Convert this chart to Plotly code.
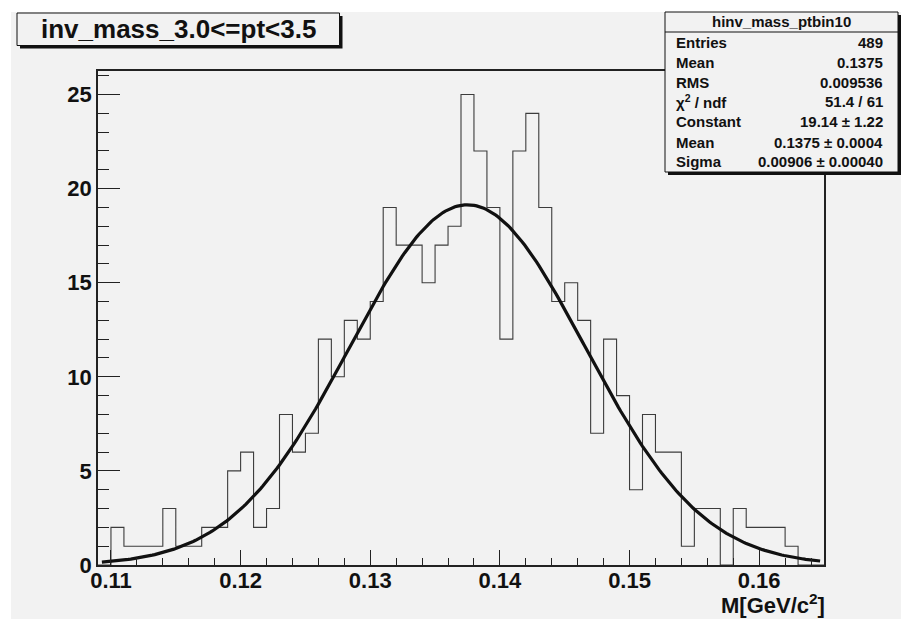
import numpy as np
import plotly.graph_objects as go

# ---- data ----
hist_low_edge = 0.109
bin_width = 0.001
counts = [0, 2, 1, 1, 1, 3, 1, 1, 2, 2, 5, 6, 2, 3, 8, 6, 7, 12, 10, 13,
          12, 14, 19, 17, 17, 15, 17, 18, 25, 22, 19, 12, 22, 24, 19, 14, 15, 13, 7, 12,
          9, 4, 8, 6, 6, 1, 3, 3, 0, 3, 2, 2, 2, 1, 0, 0]
fit_constant = 19.14
fit_mean = 0.1375
fit_sigma = 0.00906
fit_range = [0.1093, 0.1647]
title_text = "inv_mass_3.0<=pt<3.5"
stats_title = "hinv_mass_ptbin10"
stats_labels = ["Entries", "Mean", "RMS", "χ<sup>2</sup> / ndf", "Constant", "Mean", "Sigma"]
stats_values = ["489", "0.1375", "0.009536", "51.4 / 61", "19.14 ± 1.22",
                "0.1375 ± 0.0004", "0.00906 ± 0.00040"]
x_title = "M[GeV/c<sup>2</sup>]"

# ---- derived ----
n = len(counts)
edges = np.round(hist_low_edge + bin_width * np.arange(n + 1), 6)
step_y = list(counts) + [counts[-1]]
xf = np.linspace(fit_range[0], fit_range[1], 300)
yf = fit_constant * np.exp(-0.5 * ((xf - fit_mean) / fit_sigma) ** 2)

W, H = 901, 619
L, R, T, B = 98, 77, 71, 54
PW = W - L - R
PH = H - T - B


def fx(px):
    return (px - L) / PW


def fy(py):
    return (H - B - py) / PH


BG = "#f2f2f2"
FONT = "Liberation Sans"

fig = go.Figure()
fig.add_trace(go.Scatter(x=edges, y=step_y, mode="lines", line_shape="hv",
                         line=dict(color="#3c3c3c", width=1.1), hoverinfo="skip",
                         showlegend=False))
fig.add_trace(go.Scatter(x=xf, y=yf, mode="lines",
                         line=dict(color="#111111", width=3.2), hoverinfo="skip",
                         showlegend=False))

shapes = []
# canvas pad
shapes.append(dict(type="rect", xref="paper", yref="paper", x0=fx(11), x1=fx(W + 2),
                   y0=fy(12), y1=fy(H + 2), fillcolor=BG, line=dict(width=0), layer="below"))
# title box with shadow
shapes.append(dict(type="rect", xref="paper", yref="paper", x0=fx(20), x1=fx(342.5),
                   y0=fy(16), y1=fy(48.5), fillcolor="#111", line=dict(width=0)))
shapes.append(dict(type="rect", xref="paper", yref="paper", x0=fx(17), x1=fx(339.5),
                   y0=fy(13), y1=fy(45.5), fillcolor=BG, line=dict(color="#111", width=1)))
# stats box with shadow
shapes.append(dict(type="rect", xref="paper", yref="paper", x0=fx(668), x1=fx(901),
                   y0=fy(15), y1=fy(175), fillcolor="#111", line=dict(width=0)))
shapes.append(dict(type="rect", xref="paper", yref="paper", x0=fx(665), x1=fx(898),
                   y0=fy(12), y1=fy(172), fillcolor=BG, line=dict(color="#111", width=1)))
shapes.append(dict(type="line", xref="paper", yref="paper", x0=fx(665), x1=fx(898),
                   y0=fy(32), y1=fy(32), line=dict(color="#111", width=1)))

annotations = []
annotations.append(dict(text=title_text, xref="paper", yref="paper", x=fx(178), y=fy(29.5),
                        xanchor="center", yanchor="middle", showarrow=False,
                        font=dict(family=FONT, size=26, color="#111", weight="bold")))
annotations.append(dict(text=stats_title, xref="paper", yref="paper", x=fx(781), y=fy(22),
                        xanchor="center", yanchor="middle", showarrow=False,
                        font=dict(family=FONT, size=15, color="#111", weight="bold")))
row_y = [42, 62.5, 82.5, 101.5, 121.5, 142.5, 161.5]
for lab, val, ry in zip(stats_labels, stats_values, row_y):
    annotations.append(dict(text=lab, xref="paper", yref="paper", x=fx(674), y=fy(ry),
                            xanchor="left", yanchor="middle", showarrow=False,
                            font=dict(family=FONT, size=15, color="#111", weight="bold")))
    annotations.append(dict(text=val, xref="paper", yref="paper", x=fx(885), y=fy(ry),
                            xanchor="right", yanchor="middle", showarrow=False,
                            font=dict(family=FONT, size=15, color="#111", weight="bold")))
annotations.append(dict(text=x_title, xref="paper", yref="paper", x=fx(827), y=fy(604),
                        xanchor="right", yanchor="middle", showarrow=False,
                        font=dict(family=FONT, size=22, color="#111", weight="bold")))

tickfont = dict(family=FONT, size=22, color="#111", weight="bold")
fig.update_layout(
    width=W, height=H, margin=dict(l=L, r=R, t=T, b=B),
    paper_bgcolor="white", plot_bgcolor=BG,
    shapes=shapes, annotations=annotations, showlegend=False,
    xaxis=dict(range=[edges[0], edges[-1]], tick0=0.11, dtick=0.01, tickformat=".2f",
               ticks="inside", ticklen=15, tickwidth=1, tickcolor="#222",
               ticklabelstandoff=-5,
               minor=dict(dtick=0.002, tick0=0.11, ticks="inside", ticklen=7,
                          tickcolor="#222", tickwidth=1, showgrid=False),
               showline=True, mirror=True, linecolor="#222", linewidth=1.5,
               showgrid=False, zeroline=False, tickfont=tickfont),
    yaxis=dict(range=[0, 26.25], tick0=0, dtick=5, ticks="inside", ticklen=22,
               tickwidth=1, tickcolor="#222",
               minor=dict(dtick=1, ticks="inside", ticklen=11, tickcolor="#222",
                          tickwidth=1, showgrid=False),
               showline=True, mirror=True, linecolor="#222", linewidth=1.5,
               showgrid=False, zeroline=False, tickfont=tickfont),
)
fig.write_html("out.html")
